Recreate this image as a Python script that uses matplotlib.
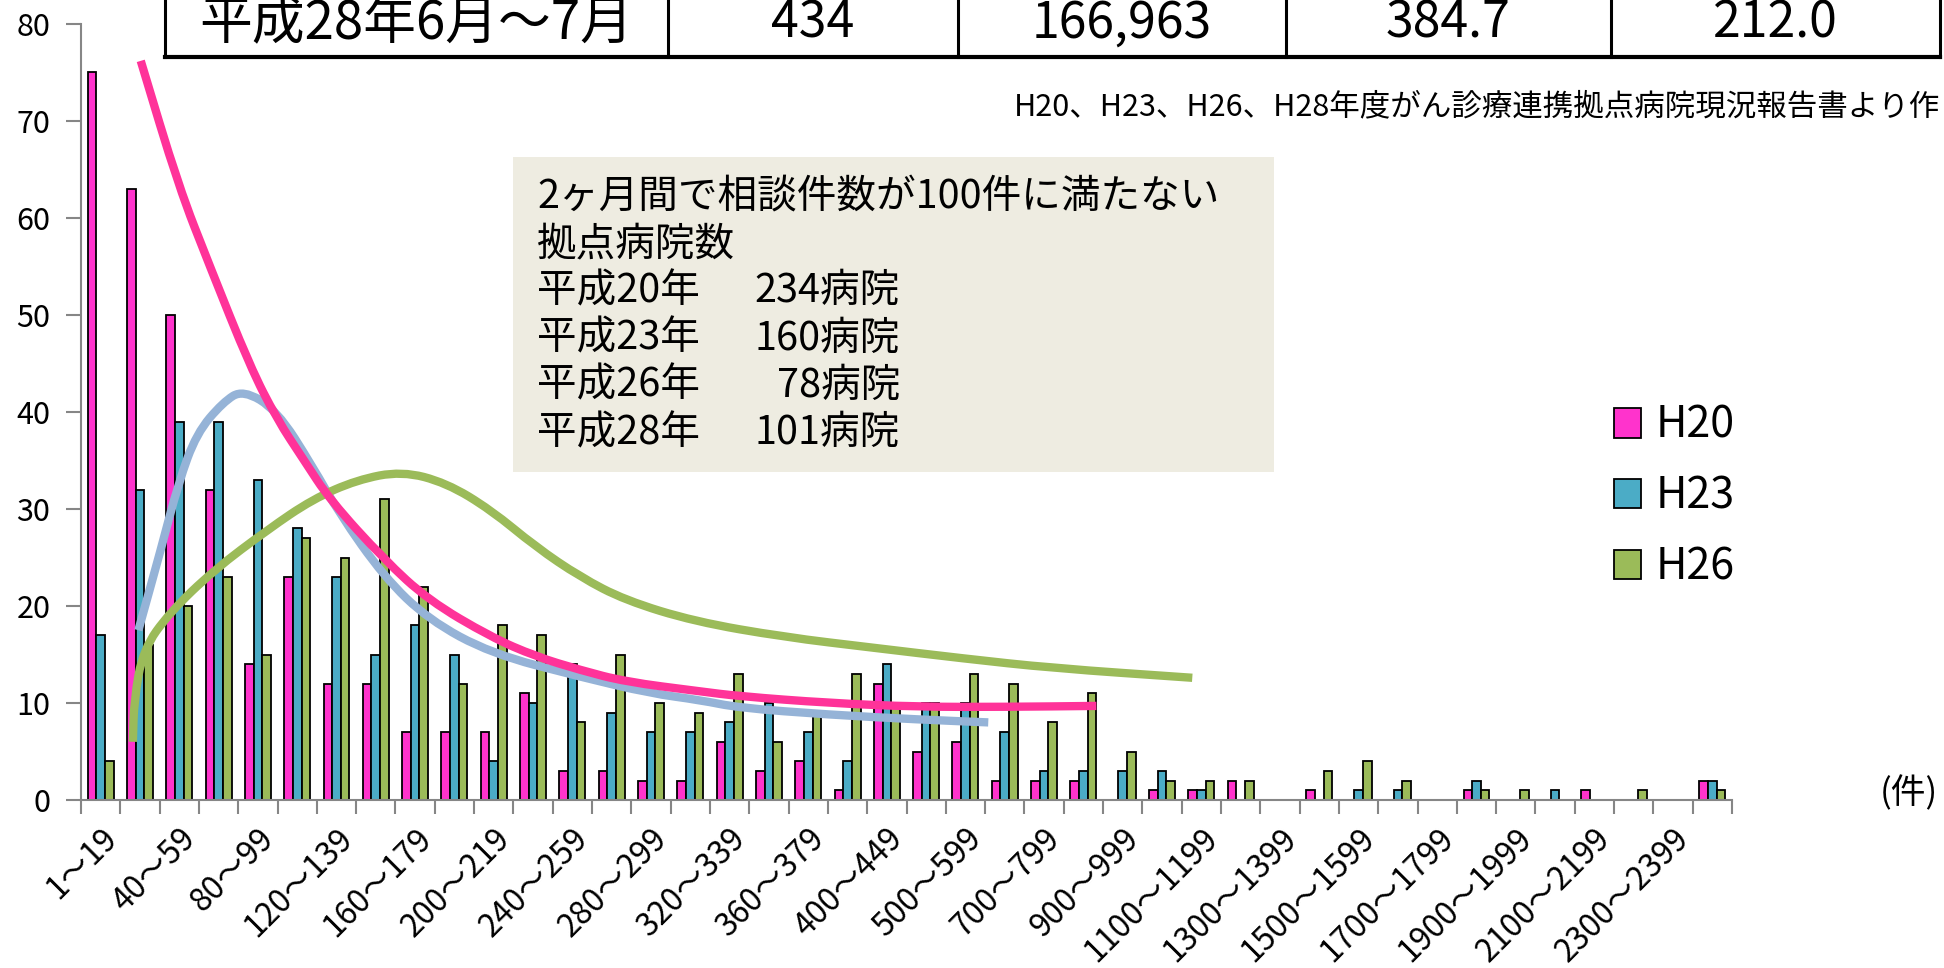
import numpy as np
import matplotlib
matplotlib.use('Agg')
import matplotlib.pyplot as plt
from matplotlib.patches import Rectangle, Patch, PathPatch
from matplotlib.path import Path
from matplotlib.lines import Line2D

plt.rcParams['font.family'] = ['Noto Sans CJK JP', 'DejaVu Sans']

# categories (相談件数の階級)
categories = ['1～19', '20～39', '40～59', '60～79', '80～99', '100～119', '120～139',
              '140～159', '160～179', '180～199', '200～219', '220～239', '240～259',
              '260～279', '280～299', '300～319', '320～339', '340～359', '360～379',
              '380～399', '400～449', '450～499', '500～599', '600～699', '700～799',
              '800～899', '900～999', '1000～1099', '1100～1199', '1200～1299',
              '1300～1399', '1400～1499', '1500～1599', '1600～1699', '1700～1799',
              '1800～1899', '1900～1999', '2000～2099', '2100～2199', '2200～2299',
              '2300～2399', '2400～']

h20 = [75, 63, 50, 32, 14, 23, 12, 12, 7, 7, 7, 11, 3, 3, 2, 2, 6, 3, 4, 1,
       12, 5, 6, 2, 2, 2, 0, 1, 1, 2, 0, 1, 0, 0, 0, 1, 0, 0, 1, 0, 0, 2]
h23 = [17, 32, 39, 39, 33, 28, 23, 15, 18, 15, 4, 10, 14, 9, 7, 7, 8, 10, 7, 4,
       14, 10, 10, 7, 3, 3, 3, 3, 1, 0, 0, 0, 1, 1, 0, 2, 0, 1, 0, 0, 0, 2]
h26 = [4, 16, 20, 23, 15, 27, 25, 31, 22, 12, 18, 17, 8, 15, 10, 9, 13, 6, 9, 13,
       10, 10, 13, 12, 8, 11, 5, 2, 2, 2, 0, 3, 4, 2, 0, 1, 1, 0, 0, 1, 0, 1]
series_names = ['H20', 'H23', 'H26']

# hand drawn smooth curves (x in category units)
pink_x = [1.02, 1.98, 2.78, 3.80, 4.48, 5.16, 5.84, 7.21, 8.34, 9.93, 11.07,
          12.2, 13.34, 15.25, 16.24, 18.52, 20.8, 23.06, 25.33]
pink_y = [76.2, 63.3, 55.0, 44.7, 39.3, 35.1, 30.9, 24.8, 20.6, 16.8, 14.8,
          13.4, 12.2, 11.2, 10.7, 10.0, 9.6, 9.6, 9.7]
blue_x = [0.96, 1.53, 1.98, 2.44, 3.11, 3.62, 4.48, 5.39, 6.06, 7.21, 8.34,
          9.93, 12.2, 13.98, 15.25, 16.24, 18.52, 20.8, 22.58]
blue_y = [17.5, 25.8, 32.7, 37.8, 41.0, 42.3, 40.2, 34.4, 29.6, 23.0, 18.6,
          15.1, 12.7, 11.0, 10.3, 9.5, 8.8, 8.3, 8.0]
green_x = [0.82, 0.85, 1.08, 1.75, 2.88, 4.26, 5.39, 6.52, 7.66, 8.79, 9.93,
           11.07, 12.2, 13.34, 15.11, 17.39, 19.65, 21.93, 24.21, 27.77]
green_y = [6.0, 10.3, 15.5, 19.3, 23.7, 27.9, 31.0, 33.0, 33.9, 32.7, 29.9,
           26.1, 23.0, 20.6, 18.4, 16.8, 15.7, 14.6, 13.6, 12.6]

# table row on top (partly cut off)
table_cells = ['平成28年6月～7月', '434', '166,963', '384.7', '212.0']

box_head = ['2ヶ月間で相談件数が100件に満たない', '拠点病院数']
box_years = ['平成20年', '平成23年', '平成26年', '平成28年']
box_counts = ['234', '160', '78', '101']

source_text = 'H20、H23、H26、H28年度がん診療連携拠点病院現況報告書より作'


def smooth_path(xs, ys):
    # quadratic bezier chain: read points act as control points
    pts = np.column_stack([xs, ys])
    mids = (pts[:-1] + pts[1:]) / 2
    verts = [pts[0], mids[0]]
    codes = [Path.MOVETO, Path.LINETO]
    for i in range(1, len(pts)-1):
        verts += [pts[i], mids[i]]
        codes += [Path.CURVE3, Path.CURVE3]
    verts.append(pts[-1])
    codes.append(Path.LINETO)
    return Path(verts, codes)


W, H = 1944, 968
fig = plt.figure(figsize=(W/100, H/100), dpi=100)
ax = fig.add_axes([81/W, 1-800/H, (1732-81)/W, (800-24)/H])

bar_colors = ['#FF33CC', '#4BACC6', '#9BBB59']
bw = 0.22
for k, (vals, col) in enumerate(zip([h20, h23, h26], bar_colors)):
    idx = [i for i, v in enumerate(vals) if v > 0]
    ax.bar(np.array(idx) + (k-1)*bw, [vals[i] for i in idx], width=bw,
           color=col, edgecolor='black', linewidth=1.3, zorder=2)

lw = 6
for xs, ys, col, z in [(blue_x, blue_y, '#95B3D7', 3), (green_x, green_y, '#9BBB59', 3),
                       (pink_x, pink_y, '#FF3399', 4)]:
    ax.add_patch(PathPatch(smooth_path(xs, ys), facecolor='none', edgecolor=col,
                           lw=lw, capstyle='butt', joinstyle='round', zorder=z))

ax.set_xlim(-0.5, len(categories)-0.5)
ax.set_ylim(0, 80)
ax.set_yticks(range(0, 81, 10))
ax.set_xticks(np.arange(-0.5, len(categories), 1))
ax.set_xticklabels([])
ax.set_xticks(np.arange(0, len(categories), 2),
              labels=[categories[i] for i in range(0, len(categories), 2)], minor=True)

gray = '#868686'
for s in ['top', 'right']:
    ax.spines[s].set_visible(False)
for s in ['left', 'bottom']:
    ax.spines[s].set_color(gray)
    ax.spines[s].set_linewidth(1.5)
ax.tick_params(axis='y', direction='out', length=11, width=1.5, color=gray,
               labelsize=22, pad=11)
ax.tick_params(axis='x', which='major', direction='out', length=10, width=1.5, color=gray)
ax.tick_params(axis='x', which='minor', length=0, pad=16, labelsize=23)
for lab in ax.get_xticklabels(minor=True):
    lab.set_rotation(45)
    lab.set_ha('right')
    lab.set_va('top')
    lab.set_rotation_mode('anchor')

# legend
handles = [Patch(facecolor=c, edgecolor='black', linewidth=1.3) for c in bar_colors]
fig.legend(handles, series_names, loc='upper left', bbox_to_anchor=(1614/W, 1-404/H),
           frameon=False, fontsize=31, handlelength=0.62, handleheight=0.68,
           handletextpad=0.35, labelspacing=0.62, borderpad=0, borderaxespad=0)

fig.text(1938/W, 1-794/H, '(件)', ha='right', va='center', fontsize=25)

# annotation box
fig.add_artist(Rectangle((513/W, 1-472/H), (1274-513)/W, (472-157)/H,
                         transform=fig.transFigure, facecolor='#EEECE1',
                         edgecolor='none'))
ys = [197 + 47.2*i for i in range(6)]
for i, t in enumerate(box_head):
    fig.text(537/W, 1-ys[i]/H, t, ha='left', va='center', fontsize=28.5)
for i, (yr, n) in enumerate(zip(box_years, box_counts)):
    fig.text(537/W, 1-ys[i+2]/H, yr, ha='left', va='center', fontsize=28.5)
    fig.text(900/W, 1-ys[i+2]/H, n + '病院', ha='right', va='center', fontsize=28.5)

# table fragment
col_edges = [165, 668, 958, 1286, 1611, 1940]
fig.add_artist(Line2D([col_edges[0]/W, col_edges[-1]/W], [1-57/H, 1-57/H],
                      transform=fig.transFigure, color='black', lw=3))
for xe in col_edges:
    fig.add_artist(Line2D([xe/W, xe/W], [1-57/H, 1], transform=fig.transFigure,
                          color='black', lw=2.2))
for i, t in enumerate(table_cells):
    xc = (col_edges[i] + col_edges[i+1]) / 2
    fig.text(xc/W, 1-24/H, t, ha='center', va='center', fontsize=36 if i else 38)

fig.text(1940/W, 1-107/H, source_text, ha='right', va='center', fontsize=22)

fig.savefig('out.png', dpi=100, facecolor='white')
